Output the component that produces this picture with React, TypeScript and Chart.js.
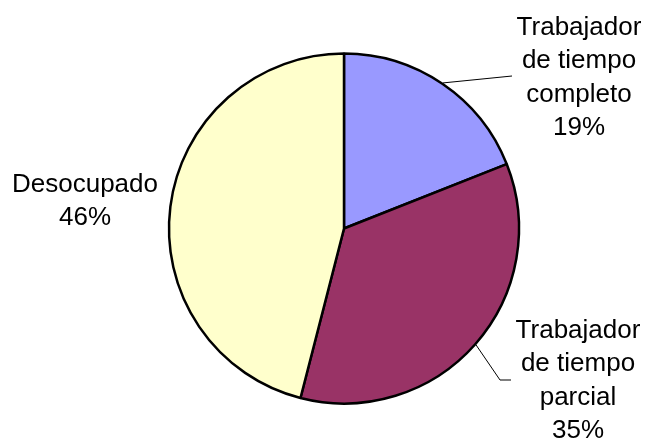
import { useEffect, useRef } from 'react';
import { Chart, registerables, ArcElement } from 'chart.js';

Chart.register(...registerables);

const categories = ['Trabajador de tiempo completo', 'Trabajador de tiempo parcial', 'Desocupado'];
const shares = [19, 35, 46];
const labelLines = [
  ['Trabajador', 'de tiempo', 'completo', '19%'],
  ['Trabajador', 'de tiempo', 'parcial', '35%'],
  ['Desocupado', '46%'],
];
const sliceColors = ['#9999FF', '#993366', '#FFFFCC'];

// where each label block sits (centre x, first baseline) and where its leader line ends
const labelLayout = [
  { x: 579, y: 35, leader: [[512, 76]] },
  { x: 578, y: 338, leader: [[500, 380], [511, 380]] },
  { x: 85, y: 192, leader: [] as number[][] },
];
const LINE_HEIGHT = 33.3;

const labelPlugin = {
  id: 'sliceLabels',
  afterDraw(chart: Chart) {
    const ctx = chart.ctx;
    const arcs = chart.getDatasetMeta(0).data as ArcElement[];
    ctx.save();
    arcs.forEach((arc, i) => {
      const { x, y, startAngle, endAngle, outerRadius } = arc.getProps(
        ['x', 'y', 'startAngle', 'endAngle', 'outerRadius'],
        true
      ) as any;
      const mid = (startAngle + endAngle) / 2;
      const lay = labelLayout[i];
      if (lay.leader.length) {
        ctx.beginPath();
        ctx.strokeStyle = '#000';
        ctx.lineWidth = 1;
        ctx.moveTo(x + Math.cos(mid) * (outerRadius + 1), y + Math.sin(mid) * (outerRadius + 1));
        lay.leader.forEach(([lx, ly]) => ctx.lineTo(lx, ly));
        ctx.stroke();
      }
      ctx.fillStyle = '#000';
      ctx.font = '26px "Liberation Sans", Arial, sans-serif';
      ctx.textAlign = 'center';
      ctx.textBaseline = 'alphabetic';
      labelLines[i].forEach((line, k) => {
        ctx.fillText(line, lay.x, lay.y + k * LINE_HEIGHT);
      });
    });
    ctx.restore();
  },
};

export default function App() {
  const canvasRef = useRef<HTMLCanvasElement>(null);
  const chartRef = useRef<Chart | null>(null);

  useEffect(() => {
    if (!canvasRef.current) return;
    const ctx = canvasRef.current.getContext('2d');
    if (!ctx) return;
    if (chartRef.current) chartRef.current.destroy();

    chartRef.current = new Chart(ctx, {
      type: 'pie',
      data: {
        labels: categories,
        datasets: [
          {
            data: shares,
            backgroundColor: sliceColors,
            borderColor: '#000',
            borderWidth: 2.5,
            hoverBorderWidth: 2.5,
          },
        ],
      },
      options: {
        responsive: false,
        animation: false,
        radius: 175,
        layout: { padding: { left: 33, top: 16, right: 0, bottom: 0 } },
        plugins: {
          legend: { display: false },
          tooltip: { enabled: false },
        },
      },
      plugins: [labelPlugin],
    });

    return () => {
      if (chartRef.current) {
        chartRef.current.destroy();
        chartRef.current = null;
      }
    };
  }, []);

  return (
    <div style={{ position: 'absolute', left: 0, top: 0, width: 655, height: 441, background: '#fff' }}>
      <canvas ref={canvasRef} width={655} height={441} />
    </div>
  );
}
